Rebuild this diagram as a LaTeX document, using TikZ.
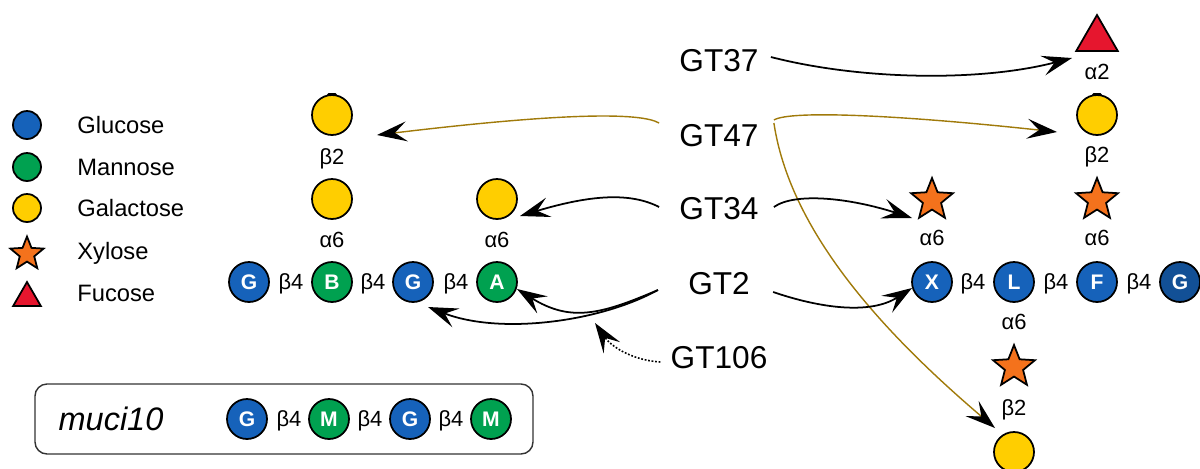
\documentclass[tikz,border=0pt]{standalone}
\usepackage{fontspec}
\setmainfont{Liberation Sans}
\usetikzlibrary{arrows.meta,shapes.geometric}

\definecolor{glcblue}{RGB}{22,98,186}
\definecolor{glcdark}{RGB}{18,80,150}
\definecolor{mangreen}{RGB}{0,161,80}
\definecolor{galyellow}{RGB}{255,206,0}
\definecolor{xylorange}{RGB}{244,114,28}
\definecolor{fucred}{RGB}{230,22,46}
\definecolor{goldline}{RGB}{160,122,10}

\tikzset{
  sugar/.style={circle, draw=black, line width=1pt, minimum size=0.8cm, inner sep=0pt,
    text=white, font=\fontsize{12}{12}\selectfont\bfseries},
  glc/.style={sugar, fill=glcblue},
  man/.style={sugar, fill=mangreen},
  gal/.style={sugar, fill=galyellow},
  xyl/.style={star, star points=5, star point ratio=2.3, draw=black, fill=xylorange,
    line width=1pt, minimum size=0.88cm, inner sep=0pt},
  fuc/.style={regular polygon, regular polygon sides=3, draw=black, fill=fucred,
    line width=1pt, minimum size=0.96cm, inner sep=0pt},
  small/.style={minimum size=0.56cm},
  linkage/.style={font=\fontsize{12.5}{14}\selectfont, inner sep=0pt, text depth=0pt},
  gtlabel/.style={font=\fontsize{18}{20}\selectfont, inner sep=0pt},
  legendtext/.style={font=\fontsize{13.5}{15}\selectfont, anchor=west, inner sep=0pt},
  arr/.style={-{Stealth[length=0.6cm,width=0.4cm,inset=0.24cm,color=black]}, line width=1pt},
  garr/.style={arr, draw=goldline, line width=0.8pt},
  darr/.style={arr, densely dotted, line width=0.9pt},
  galtick/.style={line width=1.6pt, line cap=round},
}

\begin{document}
\begin{tikzpicture}[x=0.02cm, y=-0.02cm]
\useasboundingbox (0,0) rectangle (1200,468);

% ---- legend ----
\node[glc, small] (lglc) at (27,125) {};
\node[man, small] (lman) at (27,167) {};
\node[gal, small] (lgal) at (27,208) {};
\node[xyl, minimum size=0.7cm] (lxyl) at (27,254) {};
\node[fuc, minimum size=0.64cm] (lfuc) at (27,298) {};
\node[legendtext] (tglc) at (77,125) {Glucose};
\node[legendtext] (tman) at (77,167) {Mannose};
\node[legendtext] (tgal) at (77,208) {Galactose};
\node[legendtext] (txyl) at (77,253) {Xylose};
\node[legendtext] (tfuc) at (77,293) {Fucose};

% ---- left backbone with galactose branches ----
\node[glc] (lg1) at (249,282) {G};
\node[man] (lb)  at (332,282) {B};
\node[glc] (lg2) at (413,282) {G};
\node[man] (la)  at (497,282) {A};
\node[linkage] (lk1) at (291,282) {β4};
\node[linkage] (lk2) at (373,282) {β4};
\node[linkage] (lk3) at (456,282) {β4};
\node[gal] (galb) at (332,199) {};
\node[linkage] (lkb) at (332,240) {α6};
\node[gal] (galbb) at (332,115) {};
\node[linkage] (lkbb) at (332,157) {β2};
\node[gal] (gala) at (497,199) {};
\node[linkage] (lka) at (497,240) {α6};
\draw[galtick] ([xshift=-0.07cm]galbb.north) -- ([xshift=0.07cm]galbb.north);

% ---- right backbone with xylose branches ----
\node[glc] (rx) at (932,282) {X};
\node[glc] (rl) at (1014,282) {L};
\node[glc] (rf) at (1097,282) {F};
\node[glc, fill=glcdark] (rg) at (1180,282) {G};
\node[linkage] (rk1) at (973,282) {β4};
\node[linkage] (rk2) at (1056,282) {β4};
\node[linkage] (rk3) at (1139,282) {β4};
\node[xyl] (xylx) at (932,200) {};
\node[linkage] (rkx) at (932,238) {α6};
\node[xyl] (xylf) at (1097,200) {};
\node[linkage] (rkf) at (1097,238) {α6};
\node[gal] (galf) at (1097,115) {};
\node[linkage] (rkgf) at (1097,155) {β2};
\node[fuc] (fucf) at (1097,39) {};
\node[linkage] (rkfuc) at (1097,72) {α2};
\node[linkage] (rkl) at (1014,322) {α6};
\node[xyl] (xyll) at (1014,367) {};
\node[linkage] (rkgl) at (1014,408) {β2};
\node[gal] (gall) at (1014,452) {};
\draw[galtick] ([xshift=-0.07cm]galf.north) -- ([xshift=0.07cm]galf.north);

% ---- glycosyltransferases ----
\node[gtlabel] (gt37)  at (719,61)  {GT37};
\node[gtlabel] (gt47)  at (719,136) {GT47};
\node[gtlabel] (gt34)  at (719,209) {GT34};
\node[gtlabel] (gt2)   at (719,284) {GT2};
\node[gtlabel] (gt106) at (719,358) {GT106};

% GT37: fucosylation
\draw[arr] ([xshift=0.24cm,yshift=0.08cm]gt37.east)
  .. controls (860,80) and (980,82) .. ([xshift=-0.5cm,yshift=-0.38cm]fucf.center);

% GT47: galactosylation
\draw[garr] ([xshift=-0.4cm,yshift=0.26cm]gt47.west)
  .. controls (640,112) and (560,113) .. ([xshift=0.9cm,yshift=-0.4cm]galbb.center);
\draw[garr] ([xshift=0.3cm,yshift=0.32cm]gt47.east)
  .. controls (790,110) and (900,115) .. ([xshift=-0.8cm,yshift=-0.34cm]galf.center);
\draw[garr] ([xshift=0.3cm,yshift=0.26cm]gt47.east)
  .. controls (790,230) and (880,330) .. ([xshift=-0.38cm,yshift=0.48cm]gall.center);

% GT34: alpha-6 additions
\draw[arr] ([xshift=-0.4cm,yshift=0.04cm]gt34.west)
  .. controls (630,192) and (590,195) .. ([xshift=0.46cm,yshift=-0.34cm]gala.center);
\draw[arr] ([xshift=0.3cm,yshift=0.04cm]gt34.east)
  .. controls (795,192) and (850,198) .. ([xshift=-0.4cm,yshift=-0.36cm]xylx.center);

% GT2: backbone synthesis
\draw[arr] ([xshift=0.46cm,yshift=-0.16cm]gt2.east)
  .. controls (820,308) and (870,315) .. ([xshift=-0.4cm,yshift=-0.12cm]rx.center);
\draw[arr] ([xshift=-0.6cm,yshift=-0.12cm]gt2.west)
  .. controls (600,315) and (570,322) .. ([xshift=0.4cm,yshift=-0.14cm]la.center);
\draw[arr] ([xshift=-0.6cm,yshift=-0.12cm]gt2.west)
  .. controls (600,322) and (500,335) .. ([xshift=0.3cm,yshift=-0.5cm]lg2.center);

% GT106 acts on the GT2 step
\coordinate (gt2step) at (595,323);
\draw[darr] ([xshift=-0.2cm,yshift=-0.08cm]gt106.west)
  .. controls (630,360) and (610,345) .. (gt2step);

% ---- muci10 backbone ----
\draw[line width=0.8pt, draw=black!80, rounded corners=0.24cm] (35,384) rectangle (533,454);
\node[font=\fontsize{18.5}{20}\selectfont\itshape, inner sep=0pt] (muci) at (111,419) {muci10};
\node[glc] (mg1) at (247,419) {G};
\node[man] (mm1) at (329,419) {M};
\node[glc] (mg2) at (410,419) {G};
\node[man] (mm2) at (491,419) {M};
\node[linkage] (mk1) at (289,419) {β4};
\node[linkage] (mk2) at (370,419) {β4};
\node[linkage] (mk3) at (451,419) {β4};
\end{tikzpicture}
\end{document}
